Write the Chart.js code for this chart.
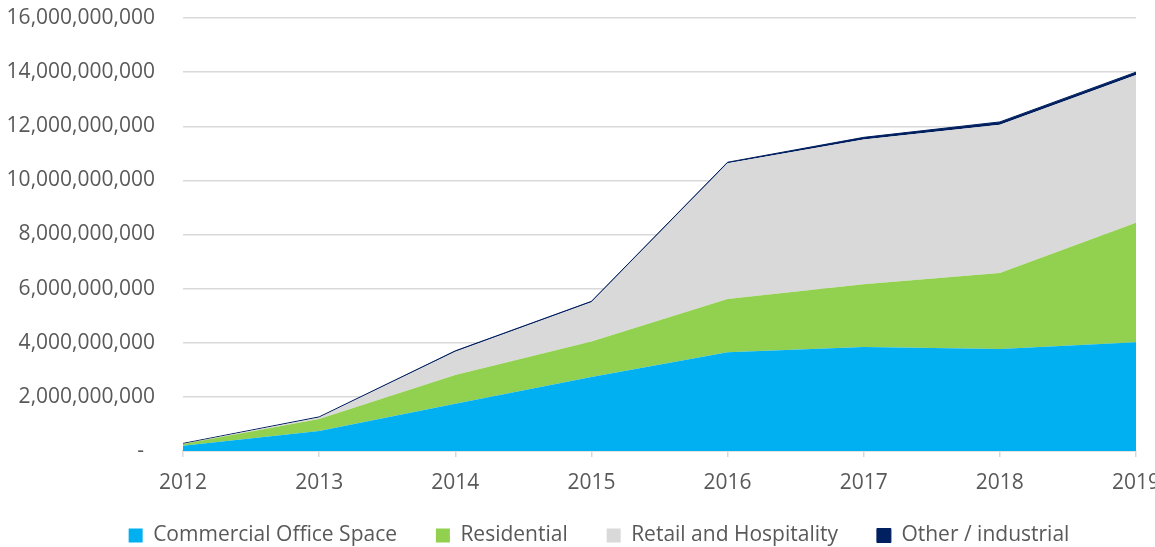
<!DOCTYPE html>
<html>
<head>
<meta charset="utf-8">
<script src="https://cdn.jsdelivr.net/npm/chart.js@4/dist/chart.umd.min.js"></script>
<style>
  html, body { margin: 0; padding: 0; background: #fff; overflow: hidden; width: 1155px; height: 547px; }
  /* a bit taller than the window: the legend's bottom padding falls outside */
  #wrap { width: 1155px; height: 556px; position: relative; }
</style>
</head>
<body>
<div id="wrap"><canvas id="chart"></canvas></div>
<script>
// ── Dados ─────────────────────────────────────────────────────
const YEARS = ["2012", "2013", "2014", "2015", "2016", "2017", "2018", "2019"];
const COMMERCIAL = [190000000, 740000000, 1750000000, 2730000000, 3650000000, 3840000000, 3770000000, 4020000000];
const RESIDENTIAL = [70000000, 440000000, 1060000000, 1320000000, 1970000000, 2320000000, 2810000000, 4410000000];
const RETAIL = [10000000, 60000000, 860000000, 1450000000, 5010000000, 5350000000, 5480000000, 5460000000];
const OTHER = [10000000, 20000000, 30000000, 30000000, 40000000, 80000000, 100000000, 110000000];
const Y_TICKS = [0, 2000000000, 4000000000, 6000000000, 8000000000, 10000000000, 12000000000, 14000000000, 16000000000];

// ── Estilo ────────────────────────────────────────────────────
const FONT = "'Open Sans', 'Noto Sans', sans-serif";
const TEXT_COLOR = "#595959";
const GRID_COLOR = "#d9d9d9";

function area(label, data, color, fill, border) {
  return {
    label,
    data,
    backgroundColor: color,
    borderColor: color,
    borderWidth: border,
    fill,
    pointRadius: 0,
    tension: 0,
  };
}

// Empurra a legenda um pouco para a direita (centro igual ao original)
const legendShift = {
  id: "legendShift",
  afterLayout(chart) {
    if (chart.legend) chart.legend.left += 43;
  },
};

const ctx = document.getElementById("chart").getContext("2d");

new Chart(ctx, {
  type: "line",
  data: {
    labels: YEARS,
    datasets: [
      area("Commercial Office Space", COMMERCIAL, "#00b0f0", "origin", 0),
      area("Residential", RESIDENTIAL, "#92d050", "-1", 0),
      area("Retail and Hospitality", RETAIL, "#d9d9d9", "-1", 0),
      area("Other / industrial", OTHER, "#002060", "-1", 1),
    ],
  },
  plugins: [legendShift],
  options: {
    responsive: true,
    maintainAspectRatio: false,
    animation: false,
    layout: { padding: 0 },
    plugins: {
      legend: {
        position: "bottom",
        labels: {
          color: TEXT_COLOR,
          font: { family: FONT, size: 21 },
          boxWidth: 14,
          boxHeight: 14,
          padding: 28,
          // espaço extra entre os itens (o padding também mexe na altura)
          generateLabels: (chart) => {
            const items = Chart.defaults.plugins.legend.labels.generateLabels(chart);
            items.forEach((it, i) => {
              if (i < items.length - 1) it.text += "  ";
            });
            return items;
          },
        },
      },
      tooltip: { enabled: false },
    },
    scales: {
      x: {
        offset: false,
        grid: {
          drawOnChartArea: false,
          drawTicks: true,
          tickLength: 6,
          color: GRID_COLOR,
          lineWidth: 1.5,
        },
        border: { color: GRID_COLOR, width: 1.5 },
        ticks: {
          color: TEXT_COLOR,
          font: { family: FONT, size: 21 },
          padding: 13,
          maxRotation: 0,
          autoSkip: false,
        },
        afterFit: (scale) => {
          scale.height = 46;
          scale.paddingLeft = 0;
          scale.paddingRight = 19; // "2019" fica cortado na borda, como no original
        },
      },
      y: {
        stacked: true,
        min: 0,
        max: 16000000000,
        afterBuildTicks: (scale) => {
          scale.ticks = Y_TICKS.map((v) => ({ value: v }));
        },
        grid: { color: GRID_COLOR, lineWidth: 1.5, drawTicks: false },
        border: { display: false },
        ticks: {
          color: TEXT_COLOR,
          font: { family: FONT, size: 21 },
          padding: 28,
          callback: (v) => (v === 0 ? "-  " : Number(v).toLocaleString("en-US")),
        },
        afterFit: (scale) => {
          scale.width = 183;
          scale.paddingTop = 18;
          scale.paddingBottom = 0;
        },
      },
    },
  },
});
</script>
</body>
</html>
